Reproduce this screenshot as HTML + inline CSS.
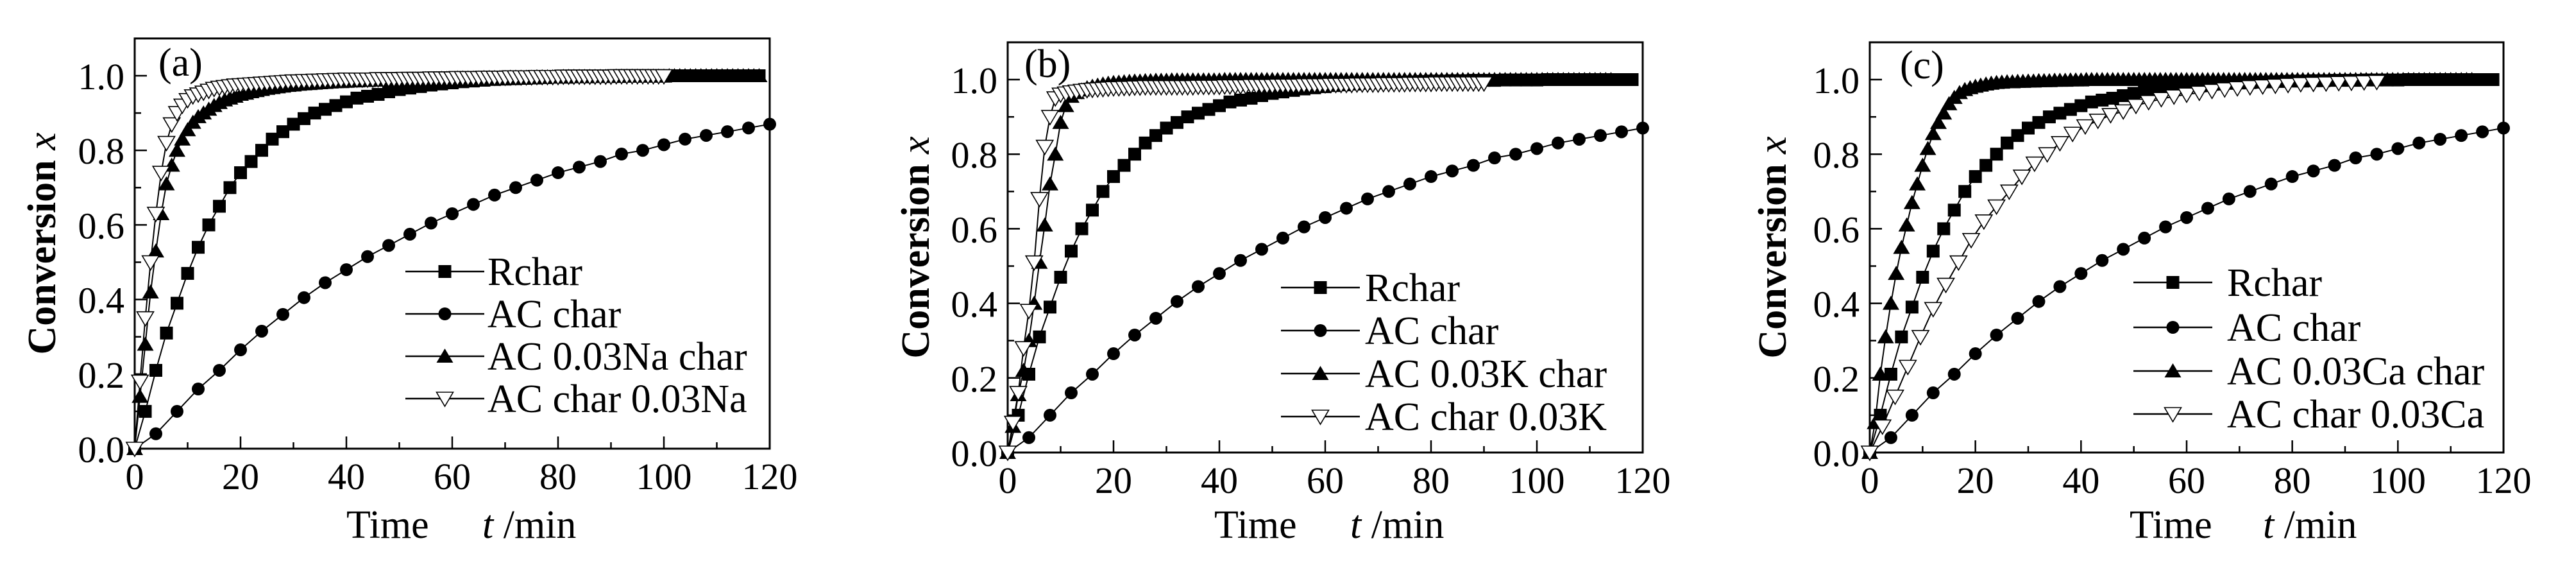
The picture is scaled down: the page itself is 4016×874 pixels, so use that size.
<!DOCTYPE html>
<html><head><meta charset="utf-8"><style>
html,body{margin:0;padding:0;background:#fff}
svg{display:block}
text{font-family:"Liberation Serif",serif;fill:#000}
</style></head><body>
<svg id="fig" width="4016" height="874" viewBox="0 0 4016 874" xmlns="http://www.w3.org/2000/svg"></svg>
<script>
// ---- shared data ----
const rcharStep = 2;
const rcharValues = [0,.10,.21,.31,.39,.47,.54,.60,.65,.70,.74,.77,.80,.83,.85,.87,.885,.90,.91,.92,.93,.94,.945,.95,.957,.963,.967,.971,.975,.978,.981,.984,.986,.988,.99,.991,.992,.993,.994,.995,.996,.996,.997,.997,.998,.998,.998,.999,.999,.999,.999,1,1,1,1,1,1,1,1,1];
const acStep = 4;
const acValues = [0,.04,.10,.16,.21,.265,.315,.36,.405,.445,.48,.515,.545,.575,.605,.63,.655,.68,.70,.72,.74,.755,.77,.79,.80,.815,.83,.84,.85,.86,.87];
// panel a
const naCharStep = 1;
const naCharValues = [0,.14,.28,.42,.53,.63,.71,.76,.80,.83,.855,.875,.89,.90,.91,.92,.928,.935,.94,.945,.95,
.953,.957,.96,.963,.966,.968,.97,.972,.974,.975,.977,.978,.979,.98,.981,.982,.983,.984,.984,.985,
.986,.986,.987,.987,.988,.988,.989,.989,.99,.99,.99,.991,.991,.991,.992,.992,.992,.993,.993,.993,
.994,.994,.994,.994,.994,.995,.995,.995,.995,.995,.996,.996,.996,.996,.996,.997,.997,.997,.997,.997,
.998,.998,.998,.998,.998,.998,.998,.998,.998,.998,.999,.999,.999,.999,.999,.999,.999,.999,.999,.999,
1,1,1,1,1,1,1,1,1,1,1,1,1,1,1,1,1,1];
const charNaStep = 1;
const charNaValues = [0,.18,.35,.50,.63,.74,.82,.87,.90,.92,.935,.945,.95,.955,.96,.965,.968,.97,.972,.974,.975,
.976,.977,.978,.979,.98,.981,.982,.983,.984,.985,.985,.986,.986,.987,.987,.988,.988,.989,.989,.99,
.99,.99,.99,.99,.99,.991,.991,.991,.991,.991,.992,.992,.992,.992,.992,.993,.993,.993,.993,.993,
.994,.994,.994,.994,.994,.995,.995,.995,.995,.995,.996,.996,.996,.996,.996,.997,.997,.997,.997,.997,
.998,.998,.998,.998,.998,.998,.998,.998,.998,.998,.999,.999,.999,.999,.999,.999,.999,.999,.999,.999];
// panel b
const kCharStep = 1;
const kCharValues = [0,.07,.155,.22,.30,.40,.51,.61,.72,.80,.885,.93,.955,.965,.972,.978,.982,.985,.988,.99,.992,
.993,.994,.995,.996,.996,.997,.997,.998,.998,.998,.999,.999,.999,.999,.999,.999,.999,.999,.999,.999,
1,1,1,1,1,1,1,1,1,1,1,1,1,1,1,1,1,1,1,1,1,1,1,1,1,1,1,1,1,1,1,1,1,1,1,1,1,1,1,1,1,1,1,1,1,1,1,1,1,1,1,1,1,1,1,1,1,1,1,1,1,1,1,1,1,1,1,1,1,1,1,1,1,1];
const charKStep = 1;
const charKValues = [0,.08,.16,.28,.38,.51,.68,.82,.90,.95,.96,.963,.966,.968,.97,.972,.973,.974,.975,.976,.977,
.977,.978,.978,.979,.979,.98,.98,.98,.98,.98,.98,.98,.98,.98,.98,.981,.981,.981,.981,.981,
.982,.982,.982,.982,.982,.983,.983,.983,.983,.983,.984,.984,.984,.984,.984,.985,.985,.985,.985,.985,
.986,.986,.986,.986,.986,.987,.987,.987,.987,.987,.988,.988,.988,.988,.988,.989,.989,.989,.989,.989,.99,.99,.99,.99,.99,.99,.99,.99,.99,.99];
// panel c
const caCharStep = 1;
const caCharValues = [0,.08,.21,.31,.40,.48,.55,.61,.67,.72,.77,.815,.855,.885,.91,.935,.952,.965,.973,.978,.982,
.985,.988,.99,.992,.993,.994,.994,.995,.995,.996,.996,.997,.997,.997,.998,.998,.998,.999,.999,.999,
1,1,1,1,1,1,1,1,1,1,1,1,1,1,1,1,1,1,1,1,1,1,1,1,1,1,1,1,1,1,1,1,1,1,1,1,1,1,1,1,1,1,1,1,1,1,1,1,1,1,1,1,1,1,1,1,1,1,1,1,1,1,1,1,1,1,1,1,1,1,1,1,1,1];
const charCaStep = 2.4;
const charCaValues = [0,.07,.15,.23,.31,.385,.45,.51,.57,.62,.66,.70,.74,.775,.80,.83,.855,.875,.89,.905,.915,.93,.94,.948,.955,.96,.965,.97,.974,.977,.98,.982,.984,.986,.988,.989,.99,.991,.992,.993,.994];
// axes
const xTicks = [0,20,40,60,80,100,120];
const yTicks = [0.0,0.2,0.4,0.6,0.8,1.0];
const yTickLabels = ["0.0","0.2","0.4","0.6","0.8","1.0"];

const NS="http://www.w3.org/2000/svg";
const svg=document.getElementById('fig');
function mk(tag,attrs,parent){const e=document.createElementNS(NS,tag);for(const k in attrs)e.setAttribute(k,attrs[k]);(parent||svg).appendChild(e);return e;}

const panels=[
 {id:'a',left:210,y0:699,W:990,label:'(a)',lx:247,ly:118,leg:{x1:632,x2:755,tx:760,rows:[423,489,555,621]},
  tx:540,tt:752,yt:86,
  series:[['Rchar','square',rcharStep,rcharValues],['AC char','circle',acStep,acValues],['AC 0.03Na char','tri',naCharStep,naCharValues],['AC char 0.03Na','itri',charNaStep,charNaValues]]},
 {id:'b',left:1571,y0:705,W:990,label:'(b)',lx:1597,ly:120,leg:{x1:1997,x2:2120,tx:2128,rows:[448,515,582,649]},
  tx:1893,tt:2105,yt:1448,
  series:[['Rchar','square',rcharStep,rcharValues],['AC char','circle',acStep,acValues],['AC 0.03K char','tri',kCharStep,kCharValues],['AC char 0.03K','itri',charKStep,charKValues]]},
 {id:'c',left:2915,y0:705,W:988,label:'(c)',lx:2962,ly:122,leg:{x1:3326,x2:3449,tx:3472,rows:[440,510,578,645]},
  tx:3320,tt:3528,yt:2784,
  series:[['Rchar','square',rcharStep,rcharValues],['AC char','circle',acStep,acValues],['AC 0.03Ca char','tri',caCharStep,caCharValues],['AC char 0.03Ca','itri',charCaStep,charCaValues]]}
];
const H=581, YMAX=1.1;

function marker(g,type,x,y){
  let e;
  if(type==='square'){e=mk('rect',{x:x-10,y:y-10,width:20,height:20,fill:'#000'},g);}
  else if(type==='circle'){e=mk('circle',{cx:x,cy:y,r:10,fill:'#000'},g);}
  else if(type==='tri'){e=mk('polygon',{points:`${x-13},${y+10} ${x+13},${y+10} ${x},${y-12}`,fill:'#000'},g);}
  else {e=mk('polygon',{points:`${x-13},${y-10} ${x+13},${y-10} ${x},${y+12}`,fill:'#fff',stroke:'#000','stroke-width':1.6},g);}
  return e;
}

panels.forEach(p=>{
  const xs=t=>p.left+t/120*p.W;
  const ys=v=>p.y0-v*H;
  const top=ys(YMAX);
  const g=mk('g',{});
  
  
  const frame=mk('rect',{x:p.left,y:top,width:p.W,height:p.y0-top,fill:'none',stroke:'#000','stroke-width':3},g);
  
  
  // x ticks
  for(let t=0;t<=120;t+=10){
    const major=t%20===0;
    const tk=mk('line',{x1:xs(t),x2:xs(t),y1:p.y0,y2:p.y0-(major?19:10),stroke:'#000','stroke-width':2.5},g);
    
    
  }
  xTicks.forEach(t=>{
    const tl=mk('text',{x:xs(t),y:p.y0+63,'font-size':58,'text-anchor':'middle'},g);
    tl.textContent=String(t);
    
    
  });
  for(let i=0;i<=10;i++){
    const v=i/10, major=i%2===0;
    const tk=mk('line',{x1:p.left,x2:p.left+(major?19:10),y1:ys(v),y2:ys(v),stroke:'#000','stroke-width':2.5},g);
    
    
  }
  yTicks.forEach((v,i)=>{
    const tl=mk('text',{x:p.left-16,y:ys(v)+21,'font-size':58,'text-anchor':'end'},g);
    tl.textContent=yTickLabels[i];
    
    
  });
  // titles
  const xt=mk('text',{x:p.tx,y:838,'font-size':62},g);
  xt.textContent='Time';
  
  
  const xt2=mk('text',{x:p.tt,y:838,'font-size':62},g);
  xt2.innerHTML='<tspan font-style="italic">t</tspan> /min';
  
  
  const cy=(top+p.y0)/2;
  const yt=mk('text',{x:0,y:0,'font-size':62,'font-weight':'bold','text-anchor':'middle',transform:`translate(${p.yt},${cy}) rotate(-90)`},g);
  yt.innerHTML='Conversion <tspan font-style="italic" font-weight="normal">x</tspan>';
  
  
  const pl=mk('text',{x:p.lx,y:p.ly,'font-size':62},g);
  pl.textContent=p.label;
  
  
  // series
  p.series.forEach((s,si)=>{
    const [name,type,step,vals]=s;
    const sg=mk('g',{},g);
    
    
    const pts=vals.map((v,i)=>xs(i*step).toFixed(1)+','+ys(v).toFixed(1)).join(' ');
    const ln=mk('polyline',{points:pts,fill:'none',stroke:'#000','stroke-width':2},sg);
    
    
    vals.forEach((v,i)=>{
      const m=marker(sg,type,xs(i*step),ys(v));
      
      
    });
    // legend
    const L=p.leg, ry=L.rows[si];
    const lg=mk('g',{},g);
    
    
    mk('line',{x1:L.x1,x2:L.x2,y1:ry,y2:ry,stroke:'#000','stroke-width':2.5},lg);
    marker(lg,type,(L.x1+L.x2)/2,ry);
    const lt=mk('text',{x:L.tx,y:ry+21,'font-size':62},lg);
    lt.textContent=name;
  });
});
</script>
</body></html>
